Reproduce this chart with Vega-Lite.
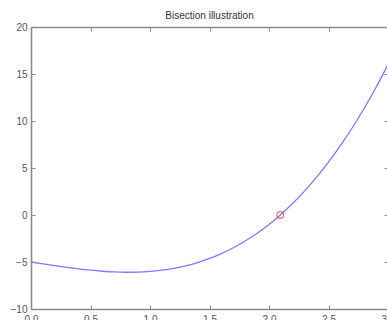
{
  "$schema": "https://vega.github.io/schema/vega-lite/v6.json",
  "autosize": {"type": "none"},
  "padding": {"left": 31, "top": 27, "right": 0, "bottom": 11},
  "width": 357,
  "height": 282,
  "background": "white",
  "title": {"text": "Bisection illustration", "fontSize": 10, "fontWeight": "normal", "font": "Liberation Sans", "color": "#333333", "offset": 1, "anchor": "middle"},
  "config": {
    "view": {"stroke": null},
    "axis": {"grid": false, "domainColor": "#8a8a8a", "domainWidth": 1.6, "tickColor": "#8a8a8a", "tickSize": -4, "tickWidth": 1, "labelFont": "Liberation Sans", "labelFontSize": 10, "labelColor": "#555555", "titleFontSize": 0}
  },
  "layer": [
    {
      "data": {"values": [
        {"x": 0, "y": -5}, {"x": 0.1, "y": -5.199}, {"x": 0.2, "y": -5.392}, {"x": 0.3, "y": -5.573},
        {"x": 0.4, "y": -5.736}, {"x": 0.5, "y": -5.875}, {"x": 0.6, "y": -5.984}, {"x": 0.7, "y": -6.057},
        {"x": 0.8, "y": -6.088}, {"x": 0.9, "y": -6.071}, {"x": 1.0, "y": -6}, {"x": 1.1, "y": -5.869},
        {"x": 1.2, "y": -5.672}, {"x": 1.3, "y": -5.403}, {"x": 1.4, "y": -5.056}, {"x": 1.5, "y": -4.625},
        {"x": 1.6, "y": -4.104}, {"x": 1.7, "y": -3.487}, {"x": 1.8, "y": -2.768}, {"x": 1.9, "y": -1.941},
        {"x": 2.0, "y": -1}, {"x": 2.1, "y": 0.061}, {"x": 2.2, "y": 1.248}, {"x": 2.3, "y": 2.567},
        {"x": 2.4, "y": 4.024}, {"x": 2.5, "y": 5.625}, {"x": 2.6, "y": 7.376}, {"x": 2.7, "y": 9.283},
        {"x": 2.8, "y": 11.352}, {"x": 2.9, "y": 13.589}, {"x": 3.0, "y": 16}
      ]},
      "mark": {"type": "line", "color": "#7b7bff", "strokeWidth": 1.3, "interpolate": "monotone"},
      "encoding": {
        "x": {"field": "x", "type": "quantitative", "scale": {"domain": [0, 3], "nice": false, "zero": false}, "axis": {"orient": "bottom", "values": [0, 0.5, 1, 1.5, 2, 2.5, 3], "labelPadding": 9, "labelOverlap": false, "labelFlush": false, "title": null}},
        "y": {"field": "y", "type": "quantitative", "scale": {"domain": [-10, 20], "nice": false, "zero": false}, "axis": {"orient": "left", "values": [-10, -5, 0, 5, 10, 15, 20], "labelPadding": 8, "labelFlush": false, "title": null}}
      }
    },
    {
      "data": {"values": [{"x": 2.0946, "y": 0}]},
      "mark": {"type": "point", "shape": "circle", "filled": false, "color": "#ff3838", "size": 45, "strokeWidth": 1.2},
      "encoding": {
        "x": {"field": "x", "type": "quantitative", "axis": {"orient": "top", "values": [0, 0.5, 1, 1.5, 2, 2.5, 3], "labels": false, "title": null}},
        "y": {"field": "y", "type": "quantitative", "axis": {"orient": "right", "values": [-10, -5, 0, 5, 10, 15, 20], "labels": false, "title": null}}
      }
    }
  ],
  "resolve": {"axis": {"x": "independent", "y": "independent"}}
}
